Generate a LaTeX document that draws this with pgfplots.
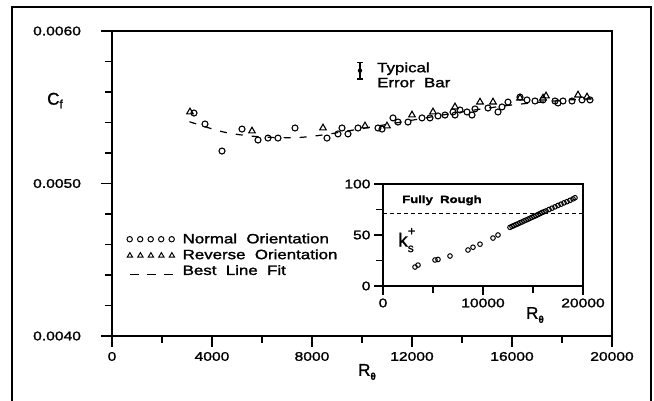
\documentclass[border=0pt]{standalone}
\usepackage{fontspec}
\setmainfont{Liberation Sans}[FakeBold=1.2]
\newfontfamily\wide[FakeStretch=1.25,FakeBold=1.6]{Liberation Sans}
\newcommand\tfont{\wide\fontsize{12.5}{15}\selectfont}
\newcommand\lfont{\wide\fontsize{13.5}{15}\selectfont}
\usepackage{pgfplots}
\pgfplotsset{compat=1.18}
\usepackage{pgfplotstable}

\pgfplotstableread{
Re Cf
3280 0.005462
3720 0.005390
4400 0.005213
5200 0.005357
5840 0.005285
6240 0.005298
6640 0.005298
7320 0.005364
8600 0.005298
9040 0.005325
9200 0.005364
9440 0.005325
9840 0.005364
10640 0.005364
10800 0.005357
11240 0.005430
11440 0.005403
11840 0.005403
12400 0.005430
12720 0.005430
13040 0.005443
13320 0.005449
13640 0.005469
13720 0.005449
13920 0.005482
14200 0.005469
14400 0.005449
14520 0.005489
15040 0.005495
15440 0.005469
15600 0.005502
15840 0.005534
16320 0.005567
16600 0.005548
16920 0.005541
17240 0.005548
17720 0.005541
17840 0.005528
18040 0.005541
18400 0.005541
18800 0.005548
19120 0.005548
}\normaltab

\pgfplotstableread{
Re Cf
3120 0.005469
5600 0.005344
8440 0.005364
10120 0.005377
11000 0.005377
12000 0.005449
12840 0.005469
13720 0.005502
14720 0.005534
15240 0.005534
16320 0.005560
17240 0.005560
17360 0.005574
18640 0.005580
19000 0.005567
}\reversetab

\pgfplotstableread{
Re Cf
3100 0.005405
4400 0.005340
5500 0.005312
6500 0.005302
7500 0.005302
8500 0.005320
10000 0.005360
12000 0.005415
14000 0.005470
16000 0.005515
18000 0.005545
19200 0.005555
}\fittab

\pgfplotstableread{
Re k
3200 18.6
3500 20.5
5200 25.5
5500 26
6700 29.4
8500 35.3
9000 38
9700 41
11000 47
11500 50
12700 57.5
12900 58.5
13100 59.3
13300 60.2
13500 61
13700 62
13900 62.8
14100 63.8
14300 64.6
14500 65.5
14700 66.4
14900 67.3
15100 68.2
15300 69
15500 70
15700 71
15900 72
16100 72.8
16300 73.6
16600 75
16900 76.3
17200 77.6
17500 79
17800 80.2
18100 81.5
18400 82.7
18700 84
19000 85.4
19200 86.5
}\insettab

\begin{document}
\begin{tikzpicture}[x=1pt,y=1pt]
\useasboundingbox (0,0) rectangle (654,400);
\draw[line width=1.1pt] (12,-5) -- (12,393) -- (651,393) -- (651,-5);

\begin{axis}[
  at={(112pt,64pt)}, anchor=south west,
  scale only axis, width=500pt, height=305pt,
  xmin=0, xmax=20000, ymin=0.0040, ymax=0.0060,
  xtick={0,4000,8000,12000,16000,20000},
  xticklabels={0,4000,8000,12000,16000,20000},
  minor xtick={2000,6000,10000,14000,18000},
  ytick={0.004,0.005,0.006},
  yticklabels={0.0040,0.0050,0.0060},
  minor ytick={0.0042,0.0044,0.0046,0.0048,0.0052,0.0054,0.0056,0.0058},
  scaled ticks=false,
  tick align=outside, xtick pos=bottom, ytick pos=left,
  major tick length=10.5pt, minor tick length=7pt,
  tick style={line width=1.1pt, black},
  axis line style={line width=1.3pt},
  tick label style={font=\tfont},
  yticklabel style={xshift=-17pt},
  xticklabel style={yshift=-2pt},
  xlabel={R\raisebox{-0.45ex}{\fontsize{10}{10}\selectfont\bfseries θ}},
  ylabel={C\raisebox{-0.4ex}{\fontsize{12}{12}\selectfont f}},
  every axis x label/.style={at={(axis description cs:0.51,-0.118)}, anchor=center, font=\fontsize{17}{17}\selectfont},
  every axis y label/.style={at={(axis description cs:-0.114,0.772)}, anchor=center, font=\fontsize{17}{17}\selectfont},
  legend style={at={(axis description cs:0.025,0.343)}, anchor=north west,
    draw=none, fill=none, font=\lfont, inner sep=0pt, row sep=0.5pt},
  legend cell align=left,
]
\addplot[only marks, mark=o, mark size=3pt, mark options={line width=1.1pt}, black,
  legend image code/.code={
    \path[draw=none, fill=none] (0pt,0pt) -- (56pt,0pt);
    \foreach \i in {0,1,2,3,4}{\draw[line width=1pt, solid] (\i*10.5pt+5pt,0pt) circle (2.7pt);}
  }] table[x=Re,y=Cf] {\normaltab};
\addlegendentry{Normal\ \ Orientation}
\addplot[only marks, mark=triangle, mark size=3.8pt, mark options={line width=1.1pt}, black,
  legend image code/.code={
    \path[draw=none, fill=none] (0pt,0pt) -- (56pt,0pt);
    \foreach \i in {0,1,2,3,4}{\draw[line width=1pt, solid] (\i*10.5pt+2.5pt,-2.2pt) -- ++(5.4pt,0pt) -- ++(-2.7pt,4.6pt) -- cycle;}
  }] table[x=Re,y=Cf] {\reversetab};
\addlegendentry{Reverse\ \ Orientation}
\addplot[smooth, no markers, black, line width=1.2pt, dash pattern=on 7pt off 9pt,
  legend image code/.code={
    \path[draw=none, fill=none] (0pt,0pt) -- (56pt,0pt);
    \draw[line width=1.2pt, dash pattern=on 9pt off 8pt] (5pt,-3.5pt) -- (51pt,-3.5pt);
  }] table[x=Re,y=Cf] {\fittab};
\addlegendentry{Best\ \ Line\ \ Fit}
\addplot[forget plot, only marks, mark=none, black,
  error bars/.cd, y dir=both, y explicit,
  error bar style={line width=1.3pt},
  error mark options={rotate=90, mark size=3pt, line width=1.3pt}]
  coordinates {(9920,0.005740) +- (0,0.000055)};
\node[anchor=west, align=left, inner sep=0pt, font=\lfont] at (axis cs:10600,0.005712) {Typical\\Error\ \ Bar};
\end{axis}

\begin{axis}[
  at={(383pt,114pt)}, anchor=south west,
  scale only axis, width=200pt, height=102pt,
  xmin=0, xmax=20000, ymin=0, ymax=100,
  xtick={0,10000,20000}, xticklabels={0,10000,20000},
  minor xtick={5000,15000},
  ytick={0,50,100}, yticklabels={0,50,100},
  minor ytick={25,75},
  scaled ticks=false,
  tick align=outside, xtick pos=bottom, ytick pos=left,
  major tick length=9pt, minor tick length=7pt,
  tick style={line width=1.1pt, black},
  axis line style={line width=1.3pt},
  tick label style={font=\tfont},
  xlabel={R\raisebox{-0.45ex}{\fontsize{10}{10}\selectfont\bfseries θ}},
  ylabel={k\rlap{\raisebox{1.1ex}{\fontsize{13}{13}\selectfont +}}\raisebox{-0.55ex}{\fontsize{12}{12}\selectfont s}},
  every axis x label/.style={at={(axis description cs:0.76,-0.285)}, anchor=center, font=\fontsize{17}{17}\selectfont},
  every axis y label/.style={at={(axis description cs:0.115,0.45)}, anchor=center, font=\fontsize{19}{19}\selectfont},
]
\addplot[black, line width=1.2pt, dash pattern=on 4pt off 3pt] coordinates {(0,71) (20000,71)};
\addplot[only marks, mark=o, mark size=2.3pt, mark options={line width=1pt}, black] table[x=Re,y=k] {\insettab};
\node[anchor=west, inner sep=0pt, font=\wide\bfseries\fontsize{10.5}{12}\selectfont] at (axis cs:1900,84) {Fully\ \ Rough};
\end{axis}
\end{tikzpicture}
\end{document}
